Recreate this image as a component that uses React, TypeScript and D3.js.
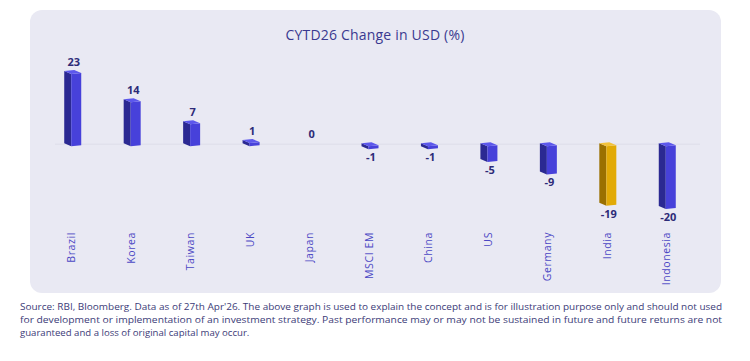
import React, { useEffect, useRef } from 'react';
import * as d3 from 'd3';

const categories = ['Brazil', 'Korea', 'Taiwan', 'UK', 'Japan', 'MSCI EM', 'China', 'US', 'Germany', 'India', 'Indonesia'];
const changes = [23, 14, 7, 1, 0, -1, -1, -5, -9, -19, -20];
const highlight = ['India'];

const footnote = [
  "Source: RBI, Bloomberg. Data as of 27th Apr'26. The above graph is used to explain the concept and is for illustration purpose only and should not used",
  'for development or implementation of an investment strategy. Past performance may or may not be sustained in future and future returns are not',
  'guaranteed and a loss of original capital may occur.',
];

const App = () => {
  const ref = useRef<SVGSVGElement>(null);

  useEffect(() => {
    const svg = d3.select(ref.current);
    svg.selectAll('*').remove();
    const font = "'Open Sans', 'Noto Sans', sans-serif";

    // panel
    svg.append('rect')
      .attr('x', 30).attr('y', 10)
      .attr('width', 691).attr('height', 283)
      .attr('rx', 12)
      .attr('fill', '#e9e9f3');

    svg.append('text')
      .attr('x', 375).attr('y', 40)
      .attr('text-anchor', 'middle')
      .attr('font-family', font)
      .attr('font-size', 14)
      .attr('letter-spacing', 0.2)
      .attr('fill', '#3a3990')
      .text('CYTD26 Change in USD (%)');

    const x = d3.scaleBand().domain(categories).range([43, 697]).padding(0);
    const y = d3.scaleLinear().domain([-20, 23]).range([207, 72]);

    // zero line
    svg.append('line')
      .attr('x1', 55).attr('x2', 700)
      .attr('y1', y(0)).attr('y2', y(0))
      .attr('stroke', '#dddde9')
      .attr('stroke-width', 1);

    const data = categories.map((c, i) => ({ c, v: changes[i] }));
    // box geometry: a = near -> left, b = near -> right
    const ax = -7, ay = -3, bx = 10, by = -1;

    const g = svg.append('g');
    data.forEach(d => {
      if (d.v === 0) return;
      const cx = x(d.c)! + x.bandwidth() / 2;
      const nx = cx - 1.5;
      const top = Math.min(y(d.v), y(0)) + 2;
      const bot = Math.max(y(d.v), y(0)) + 2;
      const hi = highlight.includes(d.c);
      const cDark = hi ? '#9a7000' : '#2b2992';
      const cFront = hi ? '#e2aa06' : '#4741da';
      const cTop = hi ? '#f2c23a' : '#5c57ec';
      const pts = (p: number[][]) => p.map(q => q.join(',')).join(' ');
      g.append('polygon')
        .attr('points', pts([[nx, top], [nx + ax, top + ay], [nx + ax, bot + ay], [nx, bot]]))
        .attr('fill', cDark);
      g.append('polygon')
        .attr('points', pts([[nx, top], [nx + bx, top + by], [nx + bx, bot + by], [nx, bot]]))
        .attr('fill', cFront);
      g.append('polygon')
        .attr('points', pts([[nx, top], [nx + ax, top + ay], [nx + ax + bx, top + ay + by], [nx + bx, top + by]]))
        .attr('fill', cTop);
    });

    // value labels
    svg.append('g')
      .selectAll('text')
      .data(data)
      .enter()
      .append('text')
      .attr('x', d => x(d.c)! + x.bandwidth() / 2 + 1)
      .attr('y', d => (d.v >= 0 ? y(d.v) - 6 : y(d.v) + 14))
      .attr('text-anchor', 'middle')
      .attr('font-family', font)
      .attr('font-size', 11)
      .attr('font-weight', 700)
      .attr('fill', '#2d2b78')
      .text(d => String(d.v));

    // category labels
    svg.append('g')
      .selectAll('text')
      .data(categories)
      .enter()
      .append('text')
      .attr('transform', d => `translate(${x(d)! + x.bandwidth() / 2 - 1},232) rotate(-90)`)
      .attr('text-anchor', 'end')
      .attr('dy', '0.35em')
      .attr('font-family', font)
      .attr('font-size', 10.5)
      .attr('letter-spacing', 0.6)
      .attr('fill', '#4b47c4')
      .text(d => d);

    // footnote
    svg.append('g')
      .selectAll('text')
      .data(footnote)
      .enter()
      .append('text')
      .attr('x', 20)
      .attr('y', (d, i) => 310 + i * 13)
      .attr('font-family', font)
      .attr('font-size', 9.6)
      .attr('fill', '#3c3b78')
      .attr('textLength', (d, i) => (i < 2 ? 702 : null) as any)
      .attr('lengthAdjust', 'spacingAndGlyphs')
      .text(d => d);
  }, []);

  return (
    <div style={{ position: 'absolute', left: 0, top: 0, background: '#fff' }}>
      <svg ref={ref} width={750} height={361} />
    </div>
  );
};

export default App;
